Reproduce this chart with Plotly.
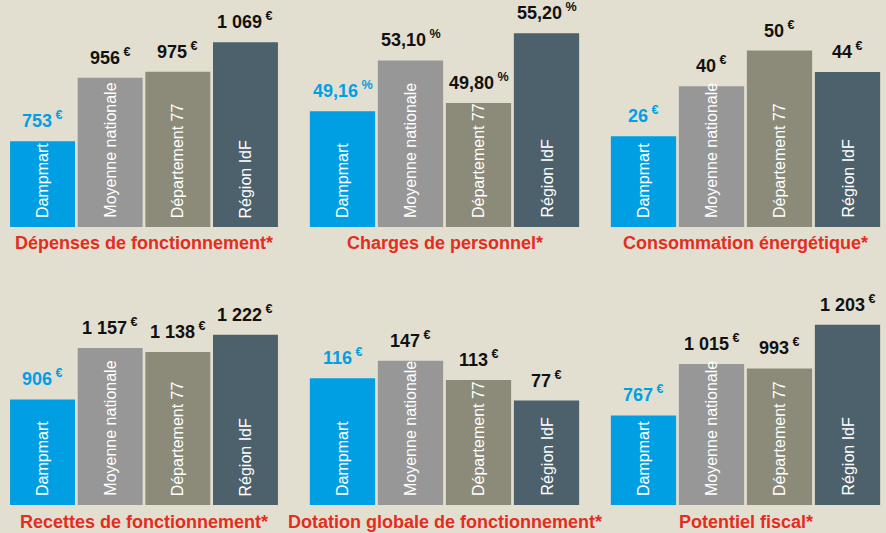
import plotly.graph_objects as go

# ---------------- data ----------------
categories = ["Dampmart", "Moyenne nationale", "Département 77", "Région IdF"]

titles = [
    "Dépenses de fonctionnement*",
    "Charges de personnel*",
    "Consommation énergétique*",
    "Recettes de fonctionnement*",
    "Dotation globale de fonctionnement*",
    "Potentiel fiscal*",
]
units = ["€", "%", "€", "€", "€", "€"]

depenses_fonctionnement = [753, 956, 975, 1069]
charges_personnel = [49.16, 53.10, 49.80, 55.20]
consommation_energetique = [26, 40, 50, 44]
recettes_fonctionnement = [906, 1157, 1138, 1222]
dotation_globale = [116, 147, 113, 77]
potentiel_fiscal = [767, 1015, 993, 1203]

series = [depenses_fonctionnement, charges_personnel, consommation_energetique,
          recettes_fonctionnement, dotation_globale, potentiel_fiscal]

# ---------------- style / layout ----------------
W, H = 886, 533
BG = "#E3DFD0"
RED = "#E42D20"
bar_colors = ["#009FE3", "#979797", "#8C8B7A", "#4D616D"]

# axis value range (baseline value, top value) per panel
axis_ranges = [(480, 1203.4), (40.2, 57.78), (0.6, 64.15),
               (391, 1440.3), (-106, 270.9), (336, 1370.6)]
# panel pixel boxes: (x0, x1) per column, (baseline_px, top_px) per row
col_x = [(8.7, 279.3), (308.5, 580.5), (609.5, 881.5)]
rows = [(227, 0), (505, 290)]
title_y = [243, 522]

FONT_BAR = "Liberation Sans Narrow, Liberation Sans, Arial"
FONT_VAL = "Liberation Sans, Arial"


def fmt(v, unit):
    if unit == "%":
        s = f"{v:.2f}".replace(".", ",")
    else:
        s = f"{int(v):,}".replace(",", " ")
    return s


fig = go.Figure()
annotations = []

for k in range(6):
    r, c = divmod(k, 3)
    ax = "" if k == 0 else str(k + 1)
    xname, yname = "x" + ax, "y" + ax
    x0, x1 = col_x[c]
    base_px, top_px = rows[r]
    lo, hi = axis_ranges[k]
    vals = series[k]

    fig.add_trace(go.Bar(
        x=categories, y=[v - lo for v in vals], base=[lo] * 4,
        marker=dict(color=bar_colors, line=dict(width=0)),
        xaxis=xname, yaxis=yname, showlegend=False,
        hoverinfo="skip",
    ))

    layout_x = dict(domain=[x0 / W, x1 / W], visible=False, anchor=yname,
                    type="category", range=[-0.5, 3.5], fixedrange=True)
    layout_y = dict(domain=[1 - base_px / H, 1 - top_px / H], visible=False,
                    anchor=xname, range=[lo, hi], fixedrange=True)
    fig.update_layout(**{"xaxis" + ax: layout_x, "yaxis" + ax: layout_y})

    for i, cat in enumerate(categories):
        col = bar_colors[0] if i == 0 else "#111111"
        annotations.append(dict(
            x=cat, y=vals[i], xref=xname, yref=yname,
            text=f"<b>{fmt(vals[i], units[k])}<sup> {units[k]}</sup></b>",
            showarrow=False, xanchor="center", yanchor="bottom", yshift=8,
            font=dict(family=FONT_VAL, size=18, color=col),
        ))
        annotations.append(dict(
            x=cat, y=lo, xref=xname, yref=yname,
            text=cat, textangle=-90,
            showarrow=False, xanchor="center", yanchor="bottom", yshift=7,
            font=dict(family=FONT_BAR, size=16, color="white"),
        ))

    annotations.append(dict(
        x=(x0 + x1) / 2 / W, y=1 - title_y[r] / H, xref="paper", yref="paper",
        text=f"<b>{titles[k]}</b>", showarrow=False,
        xanchor="center", yanchor="middle",
        font=dict(family=FONT_VAL, size=18, color=RED),
    ))

fig.update_layout(
    width=W, height=H,
    margin=dict(l=0, r=0, t=0, b=0),
    paper_bgcolor=BG, plot_bgcolor=BG,
    bargap=0.04,
    annotations=annotations,
)

fig.write_html("out.html", config={"displayModeBar": False})
